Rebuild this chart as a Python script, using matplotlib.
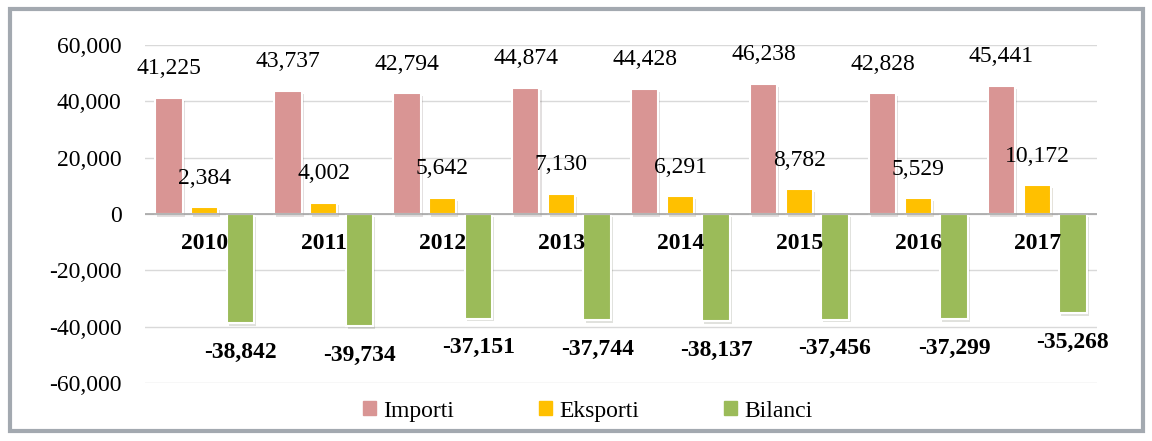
import matplotlib
matplotlib.use("Agg")
import matplotlib.pyplot as plt
import matplotlib.patheffects as pe
from matplotlib.patches import Rectangle
import numpy as np

# Data
years = ["2010", "2011", "2012", "2013", "2014", "2015", "2016", "2017"]
importi = [41225, 43737, 42794, 44874, 44428, 46238, 42828, 45441]
eksporti = [2384, 4002, 5642, 7130, 6291, 8782, 5529, 10172]
bilanci = [-38842, -39734, -37151, -37744, -38137, -37456, -37299, -35268]

plt.rcParams["font.family"] = ["Liberation Serif", "DejaVu Serif"]
FS = 17

fig = plt.figure(figsize=(11.52, 4.41), dpi=100)
fig.patch.set_facecolor("white")

# outer frame
fig.patches.append(Rectangle((0.009, 0.022), 0.983, 0.958, transform=fig.transFigure,
                             fill=False, edgecolor="#A3A9B0", linewidth=3, zorder=-1))

ax = fig.add_axes([0.126, 0.1315, 0.826, 0.7665])
ax.set_facecolor("none")

x = np.arange(len(years))
w = 0.23
off = 0.30
shadow = [pe.SimplePatchShadow(offset=(1.5, -2), alpha=0.15), pe.Normal()]
b1 = ax.bar(x - off, importi, w, color="#D99594", edgecolor="white", linewidth=1.5,
            label="Importi", zorder=3, path_effects=shadow)
b2 = ax.bar(x, eksporti, w, color="#FFC000", edgecolor="white", linewidth=1.5,
            label="Eksporti", zorder=3, path_effects=shadow)
b3 = ax.bar(x + off, bilanci, w, color="#9BBB59", edgecolor="white", linewidth=1.5,
            label="Bilanci", zorder=3, path_effects=shadow)

for i in range(len(years)):
    ax.annotate(f"{importi[i]:,}", (x[i] - off, importi[i]), xytext=(0, 21),
                textcoords="offset points", ha="center", va="center", fontsize=FS, zorder=5)
    ax.annotate(f"{eksporti[i]:,}", (x[i], eksporti[i]), xytext=(0, 21),
                textcoords="offset points", ha="center", va="center", fontsize=FS, zorder=5)
    ax.annotate(f"{bilanci[i]:,}", (x[i] + off, bilanci[i]), xytext=(0, -21),
                textcoords="offset points", ha="center", va="center", fontsize=FS,
                fontweight="bold", zorder=5)
    ax.text(x[i], -10300, years[i], ha="center", va="center", fontsize=FS,
            fontweight="bold", zorder=6)

ax.set_xlim(-0.5, len(years) - 0.5)
ax.set_ylim(-60000, 60000)
ax.set_yticks(np.arange(-60000, 60001, 20000))
ax.set_yticklabels([f"{v:,}" for v in range(-60000, 60001, 20000)], fontsize=FS)
ax.set_xticks([])
ax.tick_params(axis="y", length=0, pad=17)
for s in ax.spines.values():
    s.set_visible(False)
ax.grid(axis="y", color="#D9D9D9", linewidth=1, zorder=0)
ax.axhline(0, color="#A6A6A6", linewidth=1.2, zorder=4)
ax.set_axisbelow(True)

h1 = Rectangle((0, 0), 1, 1, color="#D99594")
h2 = Rectangle((0, 0), 1, 1, color="#FFC000")
h3 = Rectangle((0, 0), 1, 1, color="#9BBB59")
fig.legend(handles=[h1, h2, h3], labels=["Importi", "Eksporti", "Bilanci"],
           loc="center", bbox_to_anchor=(0.51, 0.068), ncol=3, frameon=False,
           fontsize=FS, handlelength=0.55, handleheight=0.55, handletextpad=0.3,
           columnspacing=3.6)

fig.savefig("out.png", dpi=100)
